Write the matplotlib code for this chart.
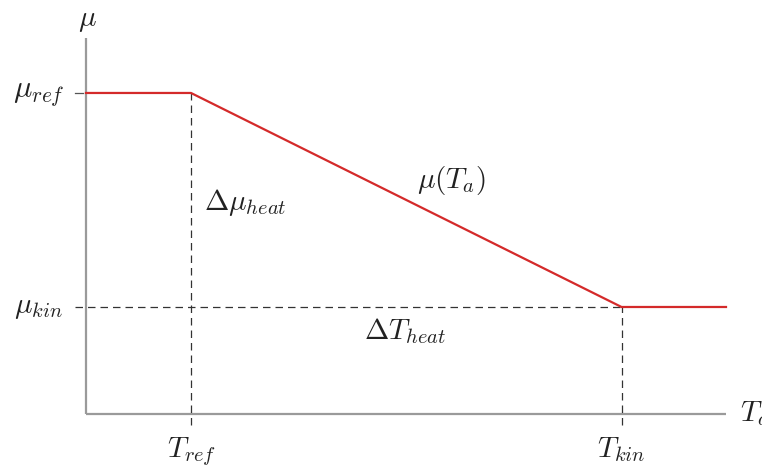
import matplotlib
matplotlib.use("Agg")
import matplotlib.pyplot as plt

plt.rcParams['mathtext.fontset'] = 'cm'
plt.rcParams['font.family'] = ['DejaVu Serif']

# data
T_ref = 1.0
T_kin = 5.1
mu_ref = 3.0
mu_kin = 1.0
curve_T = [0.0, T_ref, T_kin, 6.095]
curve_mu = [mu_ref, mu_ref, mu_kin, mu_kin]
xmax = 6.095
ymax = 3.51

W, H = 762, 468
fig = plt.figure(figsize=(W / 100, H / 100), dpi=100)
ax = fig.add_axes([86 / W, (H - 414) / H, 640 / W, 375.6 / H])
ax.set_xlim(0, xmax)
ax.set_ylim(0, ymax)
ax.set_axis_off()

spine_c = '#9a9a9a'
ax.plot([0, 0], [0, ymax], color=spine_c, lw=1.6, clip_on=False, solid_capstyle='butt')
ax.plot([0, xmax], [0, 0], color=spine_c, lw=1.6, clip_on=False, solid_capstyle='butt')

dash = dict(color='#333333', lw=0.9, linestyle=(0, (6, 4)), clip_on=False)
# vertical dashed guides
ax.plot([T_ref, T_ref], [-0.1, mu_ref], **dash)
ax.plot([T_kin, T_kin], [-0.1, mu_kin], **dash)
# horizontal dashed guide at mu_kin
ax.plot([-0.1, T_kin], [mu_kin, mu_kin], **dash)
# small tick at mu_ref
ax.plot([-0.1, -0.03], [mu_ref, mu_ref], color='#555555', lw=0.9, clip_on=False)

# red curve
ax.plot(curve_T, curve_mu, color='#d42a2a', lw=1.6, clip_on=False)

fs = 21
tc = '#222222'
ax.text(0.01, 3.68, r'$\mu$', fontsize=fs, color=tc, ha='center', va='center', clip_on=False)
ax.text(-0.2, mu_ref, r'$\mu_{ref}$', fontsize=22, color=tc, ha='right', va='center')
ax.text(-0.22, mu_kin, r'$\mu_{kin}$', fontsize=fs, color=tc, ha='right', va='center')
ax.text(T_ref, -0.2, r'$T_{ref}$', fontsize=fs, color=tc, ha='center', va='top')
ax.text(T_kin, -0.2, r'$T_{kin}$', fontsize=fs, color=tc, ha='center', va='top')
ax.text(6.23, 0.0, r'$T_a$', fontsize=fs, color=tc, ha='left', va='center')
ax.text(1.12, 1.98, r'$\Delta\mu_{heat}$', fontsize=fs, color=tc, ha='left', va='center')
ax.text(3.15, 2.18, r'$\mu(T_a)$', fontsize=fs, color=tc, ha='left', va='center')
ax.text(2.65, 0.78, r'$\Delta T_{heat}$', fontsize=fs, color=tc, ha='left', va='center')

fig.savefig('out.png', dpi=100)
